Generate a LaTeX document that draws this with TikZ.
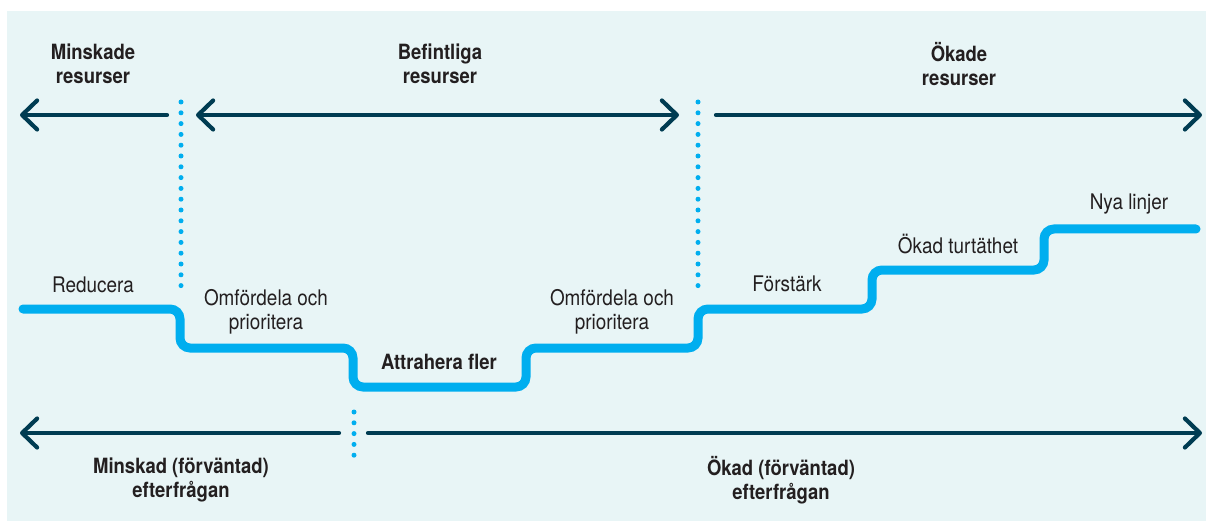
\documentclass[tikz,border=0pt]{standalone}
\usepackage{fontspec}
\setmainfont{TeX Gyre Heros}[FakeStretch=0.88]
\usetikzlibrary{arrows.meta}
\definecolor{bgc}{HTML}{E8F5F6}
\definecolor{navy}{HTML}{003C52}
\definecolor{skyb}{HTML}{00AEEF}
\definecolor{txt}{HTML}{231F20}
\tikzset{
  axis/.style={draw=navy, line width=4.2pt, line cap=round, -{Straight Barb[length=15pt,width=29pt,round]}},
  axis2/.style={draw=navy, line width=4.2pt, line cap=round, {Straight Barb[length=15pt,width=29pt,round]}-{Straight Barb[length=15pt,width=29pt,round]}},
  dots/.style={draw=skyb, line width=5pt, line cap=round, dash pattern=on 0pt off 10.8pt},
  stair/.style={draw=skyb, line width=9pt, line cap=round, rounded corners=10pt},
  head/.style={font=\fontsize{21}{24}\selectfont\bfseries, text=txt, align=center, inner sep=0pt},
  lab/.style={font=\fontsize{21.5}{24}\selectfont, text=txt, align=center, inner sep=0pt},
}
\begin{document}
\begin{tikzpicture}[x=1pt,y=-1pt]
\useasboundingbox (0,0) rectangle (1206,521);
\fill[bgc] (7,11) rectangle (1206,521);

% headings
\node[head] (h1) at (93,64) {Minskade\\resurser};
\node[head] (h2) at (440,64) {Befintliga\\resurser};
\node[head] (h3) at (959,64) {Ökade\\resurser};

% top arrows
\coordinate (a1s) at (167,115);
\coordinate (a1e) at (20,115);
\coordinate (a2s) at (196,115);
\coordinate (a2e) at (679,115);
\coordinate (a3s) at (716,115);
\coordinate (a3e) at (1202,115);
\draw[axis] (a1s) -- (a1e);
\draw[axis2] (a2s) -- (a2e);
\draw[axis] (a3s) -- (a3e);

% dotted separators
\coordinate (d1s) at (181,102);
\coordinate (d1e) at (181,296);
\coordinate (d2s) at (698,102);
\coordinate (d2e) at (698,296);
\coordinate (d3s) at (354,412);
\coordinate (d3e) at (354,457);
\draw[dots] (d1s) -- (d1e);
\draw[dots] (d2s) -- (d2e);
\draw[dots] (d3s) -- (d3e);

% stair line
\coordinate (s0) at (23,309);
\coordinate (s1) at (1196,229);
\draw[stair] (s0) -- (180,309) -- (180,348) -- (353,348) -- (353,387)
  -- (526,387) -- (526,348) -- (698,348) -- (698,309) -- (872,309)
  -- (872,270) -- (1044,270) -- (1044,229) -- (s1);

% stair labels
\node[lab] (l1) at (93,285) {Reducera};
\node[lab] (l2) at (266,312) {Omfördela och\\prioritera};
\node[head] (l3) at (439,362) {Attrahera fler};
\node[lab] (l4) at (612,312) {Omfördela och\\prioritera};
\node[lab] (l5) at (787,284) {Förstärk};
\node[lab] (l6) at (958,244) {Ökad turtäthet};
\node[lab] (l7) at (1129,204) {Nya linjer};

% bottom arrows
\coordinate (b1s) at (339,433);
\coordinate (b1e) at (20,433);
\coordinate (b2s) at (368,433);
\coordinate (b2e) at (1202,433);
\draw[axis] (b1s) -- (b1e);
\draw[axis] (b2s) -- (b2e);

\node[head] (f1) at (181,480) {Minskad (förväntad)\\efterfrågan};
\node[head] (f2) at (781,480) {Ökad (förväntad)\\efterfrågan};
\end{tikzpicture}
\end{document}
